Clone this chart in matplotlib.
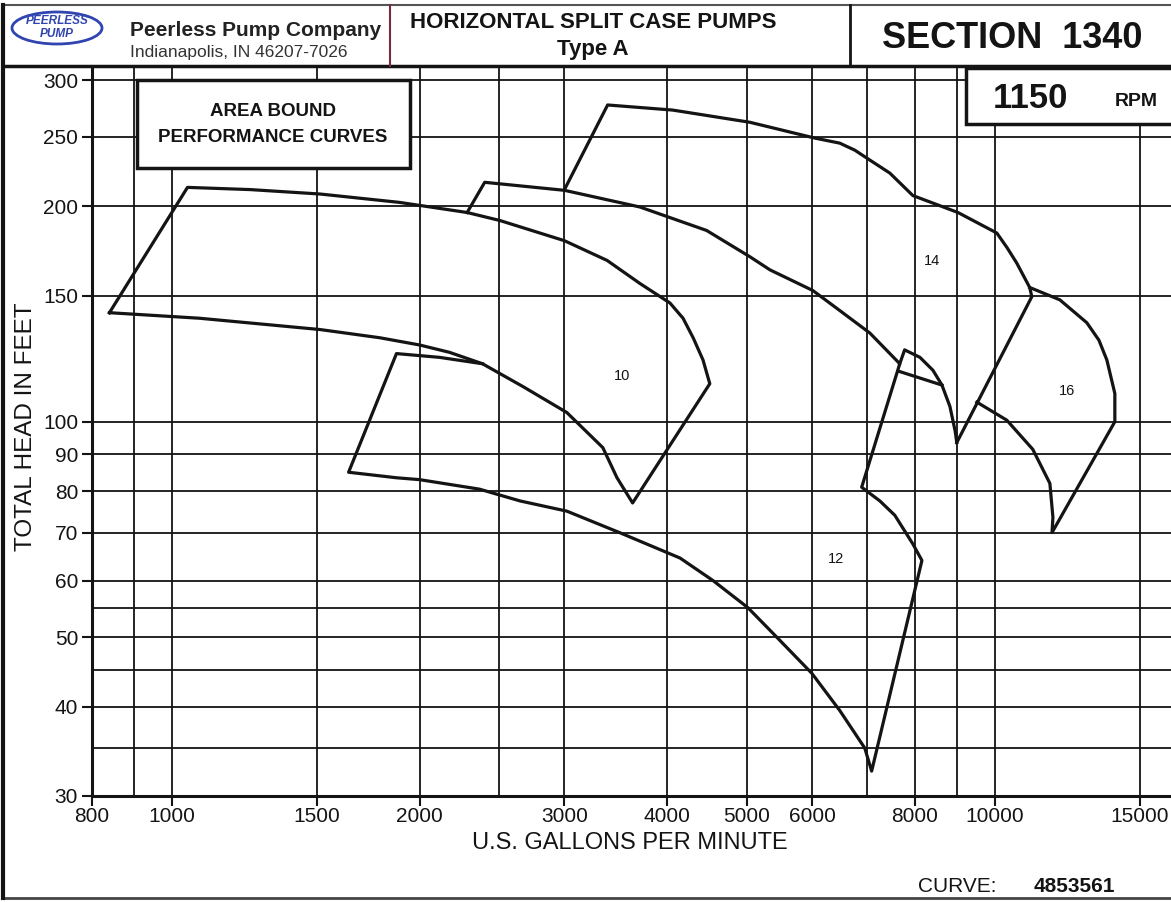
import matplotlib.pyplot as plt
from matplotlib.patches import Rectangle, Ellipse
from matplotlib.lines import Line2D

plt.rcParams['font.family'] = ['Liberation Sans', 'DejaVu Sans']

# --- area bound outlines: U.S. gpm vs total head (ft) ---

# size 10 (closed outline)
q10 = [840, 1045, 1245, 1515, 1890, 2285, 2505, 3000, 3380, 3705, 4030, 4180, 4300, 4420, 4505,
       3630, 3475, 3340, 3020, 2670, 2385, 2175, 2000, 1790, 1515, 1080, 840]
h10 = [142, 212.5, 211, 208, 202.5, 196, 191, 179, 168, 156, 146.5, 139.5, 131, 122, 113,
       77, 83.5, 92, 103, 112, 120.5, 125, 128, 131, 134.5, 139.5, 142]

# size 12 (top edge, bottom curve, right side, top curve)
q12 = [2385, 2115, 1875, 1640, 1875, 2000, 2365, 2650, 3020, 3500, 4145, 4545, 5010,
       5480, 5995, 6480, 6950, 7085, 8155, 7950, 7560, 7250, 6890, 7665, 7050, 6480,
       6010, 5330, 5040, 4465, 3705, 3000, 2400, 2285]
h12 = [120.5, 123, 124.5, 85, 83.5, 83, 80.5, 77.5, 75, 70, 64.5, 60, 55,
       49.5, 44.5, 39.5, 35, 32.5, 64, 67.5, 74, 77.5, 81, 120.5, 133, 143,
       152.5, 163, 170, 185, 199.5, 210.5, 216, 196]

# notch between 12 and 14
q_notch = [7665, 7770, 8110, 8410, 8625, 8820, 8950, 8990]
h_notch = [120.5, 126, 123, 118, 112.5, 105, 97, 93.5]
q_notch_in = [7665, 8625]
h_notch_in = [117.5, 112.5]

# size 14
q14 = [3000, 3385, 4060, 5040, 6045, 6480, 6760, 7050, 7455, 7950, 9020, 10055, 10350,
       10635, 11025, 11090, 8990]
h14 = [211, 277, 272.5, 262, 249, 245, 239.5, 232, 222.5, 207, 196, 183.5, 175,
       166.5, 154, 149.5, 93.5]

# size 16
q16 = [11025, 11995, 12935, 13380, 13680, 13990, 13990, 11735, 11765, 11665, 11120, 10340, 9510]
h16 = [154, 148, 137.5, 130, 122, 109.5, 100, 70, 73.5, 82, 91.5, 100.5, 106.5]

region_names = ['10', '12', '14', '16']
region_q = [3525, 6410, 8385, 12235]
region_h = [116, 64.3, 167.5, 110.5]

x_ticks = [800, 1000, 1500, 2000, 3000, 4000, 5000, 6000, 8000, 10000, 15000]
y_ticks = [30, 40, 50, 60, 70, 80, 90, 100, 150, 200, 250, 300]
x_grid = [900, 1000, 1500, 2000, 2500, 3000, 4000, 5000, 6000, 7000, 8000, 9000, 10000, 15000]
y_grid = [35, 40, 45, 50, 55, 60, 70, 80, 90, 100, 150, 200, 250, 300]

W, H = 1171, 902
ink = '#141414'


def fx(px):
    return px / W


def fy(py):
    return 1 - py / H


fig = plt.figure(figsize=(W / 100, H / 100), dpi=100)
ax = fig.add_axes([fx(92), fy(796), 1 - fx(92), fy(66) - fy(796)])
ax.set_xscale('log')
ax.set_yscale('log')
ax.set_xlim(800, 16370)
ax.set_ylim(30, 314)

for g in x_grid:
    ax.axvline(g, color=ink, lw=1.3, zorder=1)
for g in y_grid:
    ax.axhline(g, color=ink, lw=1.3, zorder=1)

ax.set_xticks(x_ticks)
ax.set_xticklabels([str(t) for t in x_ticks])
ax.set_yticks(y_ticks)
ax.set_yticklabels([str(t) for t in y_ticks])
ax.minorticks_off()
ax.tick_params(axis='both', length=7, width=1.5, color=ink, labelsize=15, labelcolor=ink)
ax.tick_params(axis='x', pad=1)
ax.tick_params(axis='y', pad=3)
for s in ['top', 'right']:
    ax.spines[s].set_visible(False)
for s in ['left', 'bottom']:
    ax.spines[s].set_linewidth(2.2)
    ax.spines[s].set_color(ink)

line_kw = dict(color=ink, lw=2.3, zorder=3, solid_joinstyle='round')
ax.plot(q10, h10, **line_kw)
ax.plot(q12, h12, **line_kw)
ax.plot(q_notch, h_notch, **line_kw)
ax.plot(q_notch_in, h_notch_in, **line_kw)
ax.plot(q14, h14, **line_kw)
ax.plot(q16, h16, **line_kw)

for name, q, h in zip(region_names, region_q, region_h):
    ax.text(q, h, name, ha='center', va='center', fontsize=10.5, color=ink, zorder=4)

# axis titles
fig.text(fx(630), fy(843), 'U.S. GALLONS PER MINUTE', ha='center', va='center',
         fontsize=17, color=ink)
fig.text(fx(26), fy(427), 'TOTAL HEAD IN FEET', ha='center', va='center',
         rotation=90, fontsize=17.5, color=ink)

# page frame and header
def hline(y, x0, x1, **kw):
    fig.add_artist(Line2D([fx(x0), fx(x1)], [fy(y), fy(y)], **kw))


def vline(x, y0, y1, **kw):
    fig.add_artist(Line2D([fx(x), fx(x)], [fy(y0), fy(y1)], **kw))


hline(5, 3, W, color='#555555', lw=1.5)
hline(66, 3, W, color=ink, lw=2.5)
hline(898, 3, W, color='#444444', lw=2)
vline(3, 5, 898, color=ink, lw=3)
vline(390, 5, 66, color='#7a2a3a', lw=1.5)
vline(850, 5, 66, color=ink, lw=2)

fig.add_artist(Ellipse((fx(57), fy(28)), 90 / W, 32 / H, transform=fig.transFigure,
                       fc='white', ec='#3045b0', lw=2))
fig.text(fx(57), fy(21), 'PEERLESS', ha='center', va='center', fontsize=8.5,
         style='italic', weight='bold', color='#3045b0')
fig.text(fx(57), fy(34), 'PUMP', ha='center', va='center', fontsize=8.5,
         style='italic', weight='bold', color='#3045b0')
fig.text(fx(130), fy(31), 'Peerless Pump Company', ha='left', va='center',
         fontsize=15, weight='bold', color='#222222')
fig.text(fx(130), fy(52), 'Indianapolis, IN 46207-7026', ha='left', va='center',
         fontsize=12.5, color='#333333')

fig.text(fx(593), fy(22), 'HORIZONTAL SPLIT CASE PUMPS', ha='center', va='center',
         fontsize=16, weight='bold', color=ink)
fig.text(fx(593), fy(50), 'Type A', ha='center', va='center',
         fontsize=16, weight='bold', color=ink)
fig.text(fx(1012), fy(39), 'SECTION  1340', ha='center', va='center',
         fontsize=26, weight='bold', color=ink)

# boxes over the grid
fig.add_artist(Rectangle((fx(137), fy(168)), fx(410) - fx(137), fy(80) - fy(168),
                         transform=fig.transFigure, fc='white', ec=ink, lw=2.5, zorder=2))
fig.text(fx(273), fy(112), 'AREA BOUND', ha='center', va='center',
         fontsize=13.5, weight='bold', color=ink, zorder=5)
fig.text(fx(273), fy(137), 'PERFORMANCE CURVES', ha='center', va='center',
         fontsize=13.5, weight='bold', color=ink, zorder=5)

fig.add_artist(Rectangle((fx(966), fy(124)), fx(1180) - fx(966), fy(68) - fy(124),
                         transform=fig.transFigure, fc='white', ec=ink, lw=2.5, zorder=2))
fig.text(fx(1030), fy(98), '1150', ha='center', va='center',
         fontsize=25, weight='bold', color=ink, zorder=5)
fig.text(fx(1136), fy(101), 'RPM', ha='center', va='center',
         fontsize=14, weight='bold', color=ink, zorder=5)

fig.text(fx(918), fy(886), 'CURVE:', ha='left', va='center', fontsize=15, color=ink)
fig.text(fx(1115), fy(886), '4853561', ha='right', va='center', fontsize=15,
         weight='bold', color=ink)

fig.savefig('out.png', dpi=100)
